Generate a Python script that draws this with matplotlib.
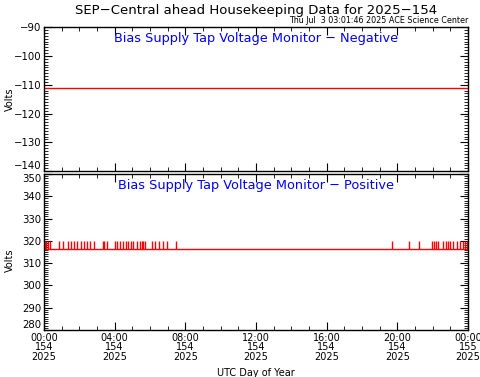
import matplotlib
matplotlib.use("Agg")
import matplotlib.pyplot as plt
from matplotlib.ticker import MultipleLocator, FixedLocator

# Datos (horas UTC del dia 154)
horas_tick = [0, 4, 8, 12, 16, 20, 24]
etiquetas_x = ["00:00\n154\n2025", "04:00\n154\n2025", "08:00\n154\n2025",
               "12:00\n154\n2025", "16:00\n154\n2025", "20:00\n154\n2025",
               "00:00\n155\n2025"]
ticks_negativo = [-140, -130, -120, -110, -100, -90]
ticks_positivo = [280, 290, 300, 310, 320, 330, 340, 350]

voltaje_negativo = -111.0
base_positivo = 316.5
pico_positivo = 320.0
horas_picos = [0.06, 0.14, 0.23, 0.34, 0.85, 1.08, 1.36, 1.51, 1.70, 1.89,
               2.08, 2.26, 2.45, 2.60, 2.85, 3.32, 3.40, 3.58, 4.02, 4.15,
               4.30, 4.49, 4.64, 4.77, 4.92, 5.05, 5.25, 5.43, 5.53, 5.62,
               5.72, 6.10, 6.28, 6.53, 6.75, 6.95, 7.45,
               19.68, 20.68, 21.23, 21.95, 22.08, 22.19, 22.32, 22.60, 22.75,
               22.88, 22.98, 23.17, 23.36, 23.55, 23.70, 23.83, 23.96]

fig = plt.figure(figsize=(4.81, 3.77), dpi=100)
ax1 = fig.add_axes([0.0915, 0.546, 0.8815, 0.382])
ax2 = fig.add_axes([0.0915, 0.1247, 0.8815, 0.414])
centro = 0.0915 + 0.8815 / 2


def estilo(ax, yticks):
    ax.set_xlim(0, 24)
    ax.set_ylim(yticks[0], yticks[-1])
    ax.xaxis.set_major_locator(FixedLocator(horas_tick))
    ax.xaxis.set_minor_locator(MultipleLocator(1))
    ax.set_yticks(yticks)
    ax.yaxis.set_minor_locator(MultipleLocator(1))
    ax.tick_params(which="both", direction="in", top=True, right=True,
                   labelsize=7.3, pad=2)
    ax.tick_params(which="major", length=6, width=0.8)
    ax.tick_params(which="minor", length=3, width=0.6)
    for s in ax.spines.values():
        s.set_linewidth(1.0)
    ax.set_ylabel("Volts", fontsize=7)


# Panel negativo
estilo(ax1, ticks_negativo)
ax1.plot([0, 24], [voltaje_negativo, voltaje_negativo], color="red", lw=1)
ax1.set_xticklabels([])
ax1.text(0.5, 0.965, "Bias Supply Tap Voltage Monitor \u2212 Negative",
         transform=ax1.transAxes, ha="center", va="top", color="blue",
         fontsize=9.3)
ax1.yaxis.set_label_coords(-0.068, 0.5)
ax1.get_yticklabels()[0].set_va("bottom")

# Panel positivo
estilo(ax2, ticks_positivo)
ax2.plot([0, 24], [base_positivo, base_positivo], color="red", lw=1)
ax2.vlines(horas_picos, base_positivo, pico_positivo, color="red", lw=1)
ax2.set_xticklabels(etiquetas_x, fontsize=7, linespacing=0.95)
ax2.text(0.5, 0.965, "Bias Supply Tap Voltage Monitor \u2212 Positive",
         transform=ax2.transAxes, ha="center", va="top", color="blue",
         fontsize=9.3)
ax2.set_xlabel("UTC Day of Year", fontsize=7, labelpad=4)
ax2.yaxis.set_label_coords(-0.068, 0.45)
ax2.get_yticklabels()[0].set_va("bottom")
ax2.get_yticklabels()[-1].set_va("top")

fig.text(centro, 0.99, "SEP\u2212Central ahead Housekeeping Data for 2025\u2212154",
         ha="center", va="top", fontsize=9.5)
fig.text(0.973, 0.935, "Thu Jul  3 03:01:46 2025 ACE Science Center",
         ha="right", va="bottom", fontsize=5.8)

fig.savefig("out.png", dpi=100)
